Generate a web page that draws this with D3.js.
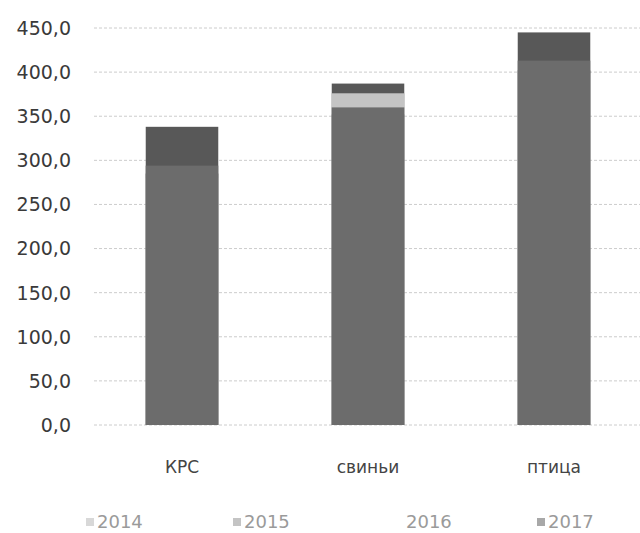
<!DOCTYPE html>
<html><head><meta charset="utf-8">
<script src="https://cdn.jsdelivr.net/npm/d3@7"></script>
<style>body{margin:0;background:#fff}svg{display:block}</style>
</head><body>
<script>
const categories = ["КРС", "свиньи", "птица"];
const years = ["2014", "2015", "2016", "2017"];
// overlapping columns (100% overlap), drawn in year order
const values2014 = [338, 387, 445];
const values2015 = [285, 352, 402];
const values2016 = [280, 376, 398];
const values2017 = [294, 360, 413];
const yTicks = [0, 50, 100, 150, 200, 250, 300, 350, 400, 450];
const colors = ["#585858", "#5e5e5e", "#c4c4c4", "#6c6c6c"];
const legendMarkers = ["#d8d8d8", "#c4c4c4", "#ffffff", "#a8a8a8"];

const series = [values2014, values2015, values2016, values2017];
const W = 640, H = 533;
const svg = d3.select("body").append("svg").attr("width", W).attr("height", H);

const y = d3.scaleLinear().domain([0, 450]).range([425, 28]);
const x = d3.scaleBand().domain(categories).range([89, 647]).paddingInner(0.61).paddingOuter(0.305);

// gridlines
svg.append("g").selectAll("line").data(yTicks).join("line")
  .attr("x1", 94).attr("x2", 640)
  .attr("y1", d => y(d)).attr("y2", d => y(d))
  .attr("stroke", "#cccccc").attr("stroke-width", 1)
  .attr("stroke-dasharray", "3,2");

// y labels
const fmt = d => d3.format(".1f")(d).replace(".", ",");
svg.append("g").selectAll("text").data(yTicks).join("text")
  .attr("x", 71).attr("y", d => y(d)).attr("dy", "0.36em")
  .attr("text-anchor", "end")
  .attr("font-family", "DejaVu Sans").attr("font-size", 19)
  .attr("fill", "#3a3a3a").text(fmt);

// bars
series.forEach((vals, si) => {
  svg.append("g").selectAll("rect").data(vals).join("rect")
    .attr("x", (d, i) => x(categories[i]))
    .attr("width", x.bandwidth())
    .attr("y", d => y(d))
    .attr("height", d => y(0) - y(d))
    .attr("fill", colors[si]);
});

// x labels
svg.append("g").selectAll("text").data(categories).join("text")
  .attr("x", d => x(d) + x.bandwidth() / 2).attr("y", 467)
  .attr("dy", "0.36em").attr("text-anchor", "middle")
  .attr("font-family", "DejaVu Sans").attr("font-size", 17)
  .attr("fill", "#444").text(d => d);

// legend
const legX = [86, 233, 395, 537];
const lg = svg.append("g").selectAll("g").data(years).join("g")
  .attr("transform", (d, i) => `translate(${legX[i]},522)`);
lg.append("rect").attr("x", 0).attr("y", -4).attr("width", 8).attr("height", 8)
  .attr("fill", (d, i) => legendMarkers[i]);
lg.append("text").attr("x", 11).attr("dy", "0.36em")
  .attr("font-family", "DejaVu Sans").attr("font-size", 18)
  .attr("fill", "#9a9a9a").text(d => d);
</script>
</body></html>
